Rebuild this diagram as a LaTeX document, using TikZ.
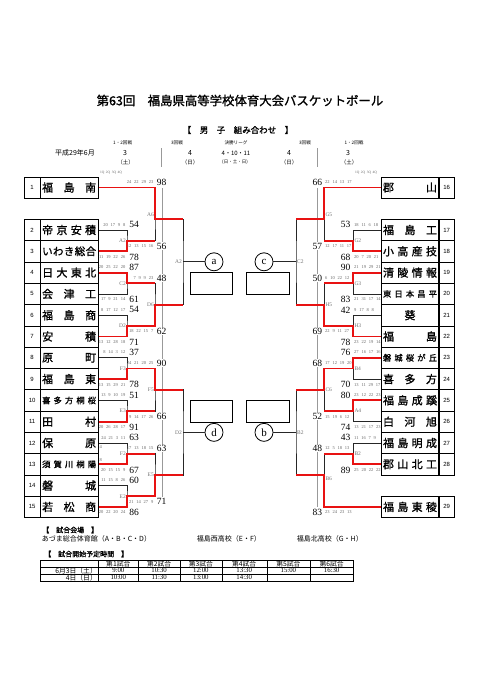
\documentclass[tikz,border=0pt]{standalone}
\usepackage{fontspec}
\setmainfont{Liberation Serif}
\newfontfamily\jp{Noto Sans CJK JP}
\newfontfamily\jpb{Noto Sans CJK JP}[FakeBold=1.2]
\newfontfamily\lsans{Liberation Sans}
\definecolor{winred}{RGB}{232,18,18}
\newcommand{\qsp}[1]{\spaceskip #1\relax}
\begin{document}
\begin{tikzpicture}[x=1pt,y=-1pt,
 tbox/.style={draw, line width=0.7pt, minimum width=58.3pt, minimum height=21.3pt, inner sep=0pt, font=\jpb\fontsize{11}{11}\selectfont},
 nbox/.style={draw, line width=0.7pt, minimum width=15.7pt, minimum height=21.3pt, inner sep=0pt, font=\lsans\fontsize{6}{6}\selectfont},
 br/.style={line width=0.8pt, black!85},
 win/.style={line width=1.9pt, winred},
 sepl/.style={line width=0.8pt, black!40},
 glab/.style={font=\fontsize{5.5}{5.5}\selectfont, text=black!55, inner sep=0.3pt},
 qtr/.style={font={\fontsize{4.5}{4.5}\selectfont\qsp{2.8pt}}, text=black!60, inner sep=0pt},
 qhd/.style={font={\fontsize{3.5}{3.5}\selectfont\qsp{1.5pt}}, text=black!60, inner sep=0pt},
 scr/.style={font=\fontsize{9.5}{9.5}\selectfont, inner sep=0.6pt},
 scw/.style={scr, fill=white},
 circ/.style={draw, circle, line width=0.8pt, minimum size=18pt, inner sep=0pt, font=\fontsize{11}{11}\selectfont},
 rbox/.style={draw, line width=0.8pt, minimum width=42.7pt, minimum height=21.7pt, inner sep=0pt},
 hd/.style={font=\jp\fontsize{4.6}{5}\selectfont, inner sep=0pt},
 dt/.style={font=\jp\fontsize{7}{7}\selectfont, inner sep=0pt},
 tb/.style={font=\jp\fontsize{6.8}{7}\selectfont, inner sep=0pt},
 tbn/.style={font=\fontsize{6.8}{7}\selectfont, inner sep=0pt},
]
\useasboundingbox (0,0) rectangle (480,680);
\fill[white] (0,0) rectangle (480,680);

% ---------- header ----------
\node[font=\jpb\fontsize{12.4}{13}\selectfont, inner sep=0pt] (title) at (240,100.5) {第63回　福島県高等学校体育大会バスケットボール};
\node[font=\jpb\fontsize{8.5}{9}\selectfont, inner sep=0pt] (sub) at (238,130) {【　男　子　組み合わせ　】};
\node[hd] (h1) at (122.7,142.7) {1・2回戦};
\node[hd] (h2) at (177,142.7) {3回戦};
\node[hd] (h3) at (236,142.7) {決勝リーグ};
\node[hd] (h4) at (305,142.7) {3回戦};
\node[hd] (h5) at (354,142.7) {1・2回戦};
\node[dt] (d0) at (75,153.3) {平成29年6月};
\node[dt] (d1) at (125,153.3) {3};
\node[dt] (d2) at (190,153.3) {4};
\node[font=\jp\fontsize{6}{6}\selectfont, inner sep=0pt] (d3) at (236,153.3) {4・10・11};
\node[dt] (d4) at (289,153.3) {4};
\node[dt] (d5) at (348,153.3) {3};
\node[font=\jp\fontsize{5.5}{6}\selectfont, inner sep=0pt] (w1) at (125.5,162.3) {（土）};
\node[font=\jp\fontsize{5.5}{6}\selectfont, inner sep=0pt] (w2) at (190,162.3) {（日）};
\node[font=\jp\fontsize{4.5}{5}\selectfont, inner sep=0pt] (w3) at (235,162.3) {(日・土・日)};
\node[font=\jp\fontsize{5.5}{6}\selectfont, inner sep=0pt] (w4) at (289,162.3) {（日）};
\node[font=\jp\fontsize{5.5}{6}\selectfont, inner sep=0pt] (w5) at (349,162.3) {（土）};
\draw[sepl] (161.7,148) -- (161.7,167);
\draw[sepl] (317.3,148) -- (317.3,167);

% ---------- day separator lines ----------
\coordinate (gL1) at (162.7,188);
\coordinate (gL2) at (162.7,497);
\coordinate (gR1) at (317.3,188);
\coordinate (gR2) at (317.3,507);
\draw[sepl] (gL1) -- (gL2);
\draw[sepl] (gR1) -- (gR2);

% ---------- team boxes ----------
\foreach \n/\yy/\nm in {
 1/187.5/{福\hfill 島\hfill 南},
 2/230/{帝\hfill 京\hfill 安\hfill 積},
 3/251.3/{\fontsize{10.5}{10.5}\selectfont い\hfill わ\hfill き\hfill 総\hfill 合},
 4/272.6/{日\hfill 大\hfill 東\hfill 北},
 5/293.9/{会\hfill 津\hfill 工},
 6/315.2/{福\hfill 島\hfill 商},
 7/336.5/{安\hfill 積},
 8/357.8/{原\hfill 町},
 9/379.1/{福\hfill 島\hfill 東},
 10/400.4/{\fontsize{8.3}{8.3}\selectfont 喜\hfill 多\hfill 方\hfill 桐\hfill 桜},
 11/421.7/{田\hfill 村},
 12/443/{保\hfill 原},
 13/464.3/{\fontsize{8.3}{8.3}\selectfont 須\hfill 賀\hfill 川\hfill 桐\hfill 陽},
 14/485.6/{磐\hfill 城},
 15/506.9/{若\hfill 松\hfill 商}}{
 \node[tbox] (tL\n) at (69.15,\yy) {\makebox[54pt]{\nm}};
 \node[nbox] (nL\n) at (32.15,\yy) {\n};
}
\foreach \n/\yy/\nm in {
 16/187.5/{郡\hfill 山},
 17/230/{福\hfill 島\hfill 工},
 18/251.3/{小\hfill 高\hfill 産\hfill 技},
 19/272.6/{清\hfill 陵\hfill 情\hfill 報},
 20/293.9/{\fontsize{8.3}{8.3}\selectfont 東\hfill 日\hfill 本\hfill 昌\hfill 平},
 21/315.2/{\hfill 葵\hfill},
 22/336.5/{福\hfill 島},
 23/357.8/{\fontsize{8.3}{8.3}\selectfont 磐\hfill 城\hfill 桜\hfill が\hfill 丘},
 24/379.1/{喜\hfill 多\hfill 方},
 25/400.4/{福\hfill 島\hfill 成\hfill 蹊},
 26/421.7/{白\hfill 河\hfill 旭},
 27/443/{福\hfill 島\hfill 明\hfill 成},
 28/464.3/{郡\hfill 山\hfill 北\hfill 工},
 29/506.9/{福\hfill 島\hfill 東\hfill 稜}}{
 \node[tbox] (tR\n) at (410,\yy) {\makebox[54pt]{\nm}};
 \node[nbox] (nR\n) at (446.65,\yy) {\n};
}

% ---------- junctions ----------
\coordinate (jA2) at (127,240.65);
\coordinate (jC2) at (127,283.25);
\coordinate (jD2) at (127,325.85);
\coordinate (jF3) at (127,368.45);
\coordinate (jE3) at (127,411.05);
\coordinate (jF2) at (127,453.65);
\coordinate (jE2) at (127,496.25);
\coordinate (jA6) at (155,219);
\coordinate (jD6) at (155,304.55);
\coordinate (jF5) at (155,389.75);
\coordinate (jE5) at (155,474.95);
\coordinate (kA2) at (183,261.8);
\coordinate (kD2) at (183,432.35);
\coordinate (jG2) at (353.3,240.65);
\coordinate (jG3) at (353.3,283.25);
\coordinate (jH3) at (353.3,325.85);
\coordinate (jB4) at (353.3,368.45);
\coordinate (jA4) at (353.3,411.05);
\coordinate (jB2) at (353.3,453.65);
\coordinate (jG5) at (324.3,219);
\coordinate (jH5) at (324.3,304.55);
\coordinate (jC6) at (324.3,389.75);
\coordinate (jB6) at (324.3,475);
\coordinate (kC2) at (296,261.8);
\coordinate (kB2) at (296,432.35);

% ---------- final league circles and boxes ----------
\node[circ] (ca) at (214,261.8) {a};
\node[circ] (cc) at (264,261.8) {c};
\node[circ] (cd) at (214,432.35) {d};
\node[circ] (cb) at (264,432.35) {b};
\node[rbox] (ra) at (211.35,283.15) {};
\node[rbox] (rc) at (268,283.15) {};
\node[rbox] (rd) at (211.35,411.5) {};
\node[rbox] (rb) at (268,411.5) {};

% ---------- black bracket ----------
\draw[br] (tL2.east) -| (jA2) |- (tL3.east);
\draw[br] (tL4.east) -| (jC2) |- (tL5.east);
\draw[br] (tL6.east) -| (jD2) |- (tL7.east);
\draw[br] (tL8.east) -| (jF3) |- (tL9.east);
\draw[br] (tL10.east) -| (jE3) |- (tL11.east);
\draw[br] (tL12.east) -| (jF2) |- (tL13.east);
\draw[br] (tL14.east) -| (jE2) |- (tL15.east);
\draw[br] (tL1.east) -| (jA6) |- (jA2);
\draw[br] (jC2) -| (jD6) |- (jD2);
\draw[br] (jF3) -| (jF5) |- (jE3);
\draw[br] (jF2) -| (jE5) |- (jE2);
\draw[br] (jA6) -| (kA2) |- (jD6);
\draw[br] (jF5) -| (kD2) |- (jE5);
\draw[br] (kA2) -- (ca);
\draw[br] (kD2) -- (cd);

\draw[br] (tR17.west) -| (jG2) |- (tR18.west);
\draw[br] (tR19.west) -| (jG3) |- (tR20.west);
\draw[br] (tR21.west) -| (jH3) |- (tR22.west);
\draw[br] (tR23.west) -| (jB4) |- (tR24.west);
\draw[br] (tR25.west) -| (jA4) |- (tR26.west);
\draw[br] (tR27.west) -| (jB2) |- (tR28.west);
\draw[br] (tR16.west) -| (jG5) |- (jG2);
\draw[br] (jG3) -| (jH5) |- (jH3);
\draw[br] (jB4) -| (jC6) |- (jA4);
\draw[br] (tR29.west) -| (jB6) |- (jB2);
\draw[br] (jG5) -| (kC2) |- (jH5);
\draw[br] (jC6) -| (kB2) |- (jB6);
\draw[br] (kC2) -- (cc);
\draw[br] (kB2) -- (cb);

% ---------- winners (red) ----------
\draw[win] (tL3.east) -| (jA2) -- (jA2 -| jA6);
\draw[win] (tL1.east) -| (jA6) -- (jA6 -| kA2);
\draw[win] (tL4.east) -| (jC2) -- (jC2 -| jD6);
\draw[win] (tL7.east) -| (jD2) -- (jD2 -| jD6) -- (jD6) -- (jD6 -| kA2);
\draw[win] (tL9.east) -| (jF3) -- (jF3 -| jF5) -- (jF5) -- (jF5 -| kD2);
\draw[win] (tL11.east) -| (jE3) -- (jE3 -| jF5);
\draw[win] (tL13.east) -| (jF2) -- (jF2 -| jE5);
\draw[win] (tL15.east) -| (jE2) -- (jE2 -| jE5) -- (jE5) -- (jE5 -| kD2);

\draw[win] (tR18.west) -| (jG2) -- (jG2 -| jG5);
\draw[win] (tR16.west) -| (jG5) -- (jG5 -| kC2);
\draw[win] (tR19.west) -| (jG3) -- (jG3 -| jH5);
\draw[win] (tR22.west) -| (jH3) -- (jH3 -| jH5) -- (jH5) -- (jH5 -| kC2);
\draw[win] (tR23.west) -| (jB4) -- (jB4 -| jC6) -- (jC6) -- (jC6 -| kB2);
\draw[win] (tR25.west) -| (jA4) -- (jA4 -| jC6);
\draw[win] (tR28.west) -| (jB2) -- (jB2 -| jB6);
\draw[win] (tR29.west) -| (jB6) -- (jB6 -| kB2);

% ---------- game labels ----------
\foreach \n/\yy/\t in {1/240.65/A2,2/283.25/C2,3/325.85/D2,4/368.45/F3,5/411.05/E3,6/453.65/F2,7/496.25/E2}
 \node[glab, anchor=east] (gl1\n) at (126.3,\yy) {\t};
\foreach \n/\yy/\t in {1/215/A6,2/304.55/D6,3/389.75/F5,4/474.95/E5}
 \node[glab, anchor=east] (gl2\n) at (154.3,\yy) {\t};
\foreach \n/\yy/\t in {1/261.8/A2,2/432.35/D2}
 \node[glab, anchor=east] (gl3\n) at (182.3,\yy) {\t};
\foreach \n/\yy/\t in {1/240.65/G2,2/283.25/G3,3/325.85/H3,4/368.45/B4,5/411.05/A4,6/453.65/B2}
 \node[glab, anchor=west] (gr1\n) at (354,\yy) {\t};
\foreach \n/\yy/\t in {1/215/G5,2/304.55/H5,3/389.75/C6,4/479/B6}
 \node[glab, anchor=west] (gr2\n) at (325,\yy) {\t};
\foreach \n/\yy/\t in {1/261.8/C2,2/432.35/B2}
 \node[glab, anchor=west] (gr3\n) at (296.7,\yy) {\t};

% ---------- scores ----------
\node[qhd, anchor=west] (qhL) at (100,172.7) {1Q 2Q 3Q 4Q};
\node[qhd, anchor=west] (qhR) at (355,172.7) {1Q 2Q 3Q 4Q};
\foreach \n/\yy/\s/\q in {2/224.7/54/20 17 9 8, 3/256.9/78/11 19 22 26, 4/267.3/87/20 25 22 20,
 5/299.5/61/17 9 21 14, 6/309.9/54/8 17 12 17, 7/342.1/71/13 12 28 18, 8/352.5/37/8 14 3 12,
 9/384.7/78/13 15 29 21, 10/395.1/51/13 9 10 19, 11/427.3/91/20 26 28 17, 12/437.7/63/24 21 3 11,
 13/469.9/67/20 15 15 9, 14/480.3/60/11 15 8 26, 15/512.5/86/20 22 20 24}{
 \node[scr] (sL\n) at (134,\yy) {\s};
 \node[qtr, anchor=east] (qL\n) at (125.5,\yy) {\q};
}
\node[qtr, anchor=west] (ot1) at (99.5,446.7) {4};
\node[qtr, anchor=west] (ot2) at (99.5,460) {8};
\foreach \n/\yy/\s/\q in {1/182.3/98/24 22 29 23, 2/246.2/56/12 13 15 16, 3/278/48/7 9 9 23,
 4/331.4/62/18 22 15 7, 5/363.2/90/24 21 20 25, 6/416.6/66/9 14 17 26, 7/448.4/63/17 13 18 15,
 8/501.8/71/21 14 27 9}{
 \node[scw] (sM\n) at (161.7,\yy) {\s};
 \node[qtr, anchor=east] (qM\n) at (153.5,\yy) {\q};
}
\foreach \n/\yy/\s/\q in {17/224.7/53/18 11 6 18, 18/256.9/68/20 7 20 21, 19/267.3/90/21 19 29 21,
 20/299.5/83/21 31 17 14, 21/309.9/42/9 17 8 8, 22/342.1/78/23 22 19 14, 23/352.5/76/27 16 17 16,
 24/384.7/70/13 11 29 17, 25/395.1/80/23 12 22 23, 26/427.3/74/13 21 17 23, 27/437.7/43/11 16 7 9,
 28/469.9/89/25 20 22 22}{
 \node[scr] (sR\n) at (345.7,\yy) {\s};
 \node[qtr, anchor=west] (qR\n) at (354,\yy) {\q};
}
\foreach \n/\yy/\s/\q in {1/182.3/66/22 14 13 17, 2/246.2/57/12 17 11 17, 3/278/50/6 10 22 12,
 4/331.4/69/22 9 11 27, 5/363.2/68/17 12 19 20, 6/416.6/52/15 19 6 12, 7/448.4/48/12 5 18 13,
 8/512.3/83/23 24 23 13}{
 \node[scw] (sN\n) at (317.3,\yy) {\s};
 \node[qtr, anchor=west] (qN\n) at (325,\yy) {\q};
}

% ---------- venues ----------
\node[font=\jpb\fontsize{7}{7}\selectfont, inner sep=0pt, anchor=west] (venH) at (42,530) {【　試合会場　】};
\node[font=\jp\fontsize{7}{7}\selectfont, inner sep=0pt, anchor=west] (ven1) at (41.7,539) {あづま総合体育館（A・B・C・D）};
\node[font=\jp\fontsize{7}{7}\selectfont, inner sep=0pt, anchor=west] (ven2) at (196.7,539) {福島西高校（E・F）};
\node[font=\jp\fontsize{7}{7}\selectfont, inner sep=0pt, anchor=west] (ven3) at (296.7,539) {福島北高校（G・H）};
\node[font=\jpb\fontsize{7}{7}\selectfont, inner sep=0pt, anchor=west] (timeH) at (44,554) {【　試合開始予定時間　】};

% ---------- time table ----------
\foreach \xx in {98.3,138.3,180,221.7,266.7,310}
 \draw[line width=0.4pt] (\xx,560) -- (\xx,581);
\draw[line width=0.4pt] (40,567) -- (353.3,567);
\draw[line width=0.4pt] (40,574) -- (353.3,574);
\draw[line width=0.9pt] (40,560) rectangle (353.3,581);
\foreach \n/\xx in {1/118.3,2/159.15,3/200.85,4/244.2,5/288.35,6/331.65}
 \node[tb] (th\n) at (\xx,563.6) {第\n 試合};
\node[tb, anchor=east] (tdA) at (97,570.6) {6月3日（土）};
\node[tb, anchor=east] (tdB) at (97,577.6) {4日（日）};
\foreach \n/\xx/\t in {1/118.3/9:00,2/159.15/10:30,3/200.85/12:00,4/244.2/13:30,5/288.35/15:00,6/331.65/16:30}
 \node[tbn] (tA\n) at (\xx,570.6) {\t};
\foreach \n/\xx/\t in {1/118.3/10:00,2/159.15/11:30,3/200.85/13:00,4/244.2/14:30}
 \node[tbn] (tB\n) at (\xx,577.6) {\t};
\end{tikzpicture}
\end{document}
